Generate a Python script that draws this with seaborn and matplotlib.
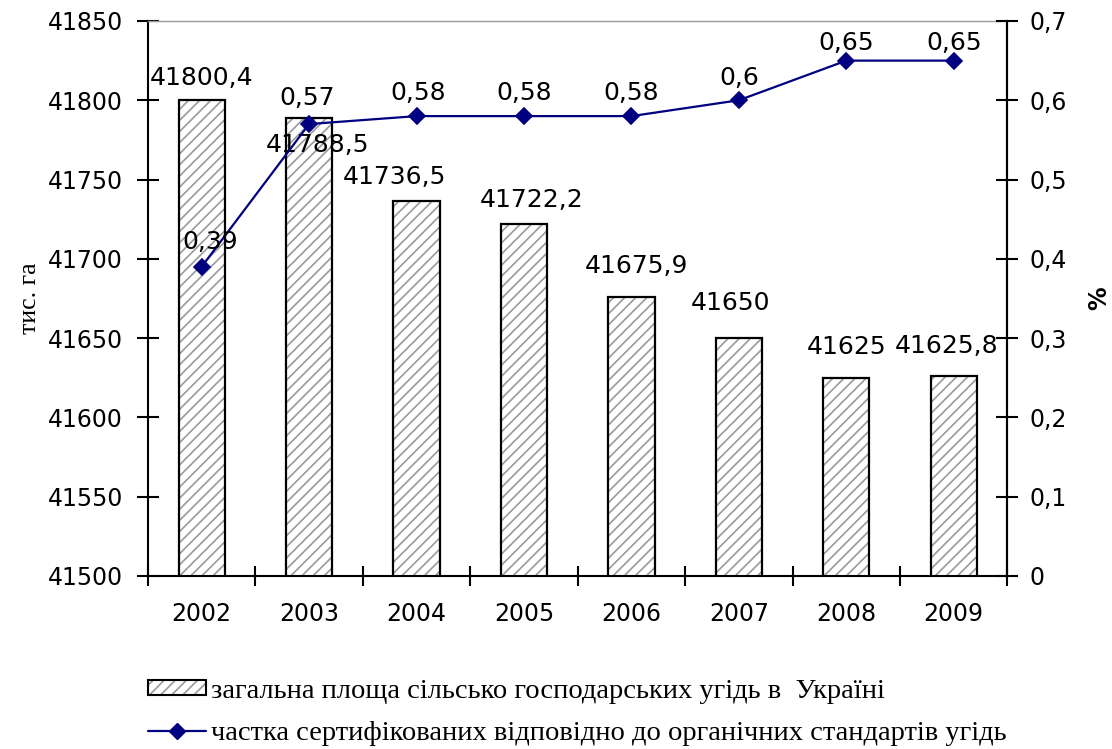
import matplotlib
matplotlib.use("Agg")
import matplotlib.pyplot as plt
import seaborn as sns
import pandas as pd
from matplotlib.lines import Line2D
from matplotlib.patches import Patch
from matplotlib.legend_handler import HandlerTuple
from matplotlib.ticker import FixedLocator, FuncFormatter, NullFormatter

# chart data
years = ["2002", "2003", "2004", "2005", "2006", "2007", "2008", "2009"]
area = [41800.4, 41788.5, 41736.5, 41722.2, 41675.9, 41650, 41625, 41625.8]
area_labels = ["41800,4", "41788,5", "41736,5", "41722,2", "41675,9", "41650", "41625", "41625,8"]
share = [0.39, 0.57, 0.58, 0.58, 0.58, 0.6, 0.65, 0.65]
share_labels = ["0,39", "0,57", "0,58", "0,58", "0,58", "0,6", "0,65", "0,65"]
legend_labels = [
    "загальна площа сільсько господарських угідь в  Україні",
    "частка сертифікованих відповідно до органічних стандартів угідь",
]

# label offsets (pixels) so the text sits like in the original
area_off = [(0, 22), (8, -27), (-22, 24), (8, 24), (5, 31), (-8, 35), (0, 31), (-7, 30)]
share_off = [(9, 25), (-2, 26), (2, 23), (0, 23), (0, 23), (0, 22), (0, 18), (0, 18)]

df = pd.DataFrame({"year": years, "area": area, "share": share})

sns.set_style("white")
plt.rcParams["font.family"] = ["DejaVu Sans"]
plt.rcParams["text.color"] = "black"
plt.rcParams["xtick.color"] = "black"
plt.rcParams["ytick.color"] = "black"
plt.rcParams["axes.labelcolor"] = "black"
plt.rcParams["hatch.linewidth"] = 1.2
serif = ["Liberation Serif", "DejaVu Serif"]
hatch_gray = "#9a9a9a"

fig = plt.figure(figsize=(11.12, 7.49), dpi=100)
ax = fig.add_axes([0.133, 0.231, 0.773, 0.741])

# hatched fill, then black outline on top
sns.barplot(data=df, x="year", y="area", color="white", edgecolor=hatch_gray,
            hatch="///", linewidth=0, width=0.43, ax=ax)
sns.barplot(data=df, x="year", y="area", fill=False, edgecolor="black",
            linewidth=1.6, width=0.43, ax=ax)

ax.set_ylim(41500, 41850)
ax.set_xlim(-0.5, 7.5)
ax.set_yticks(range(41500, 41851, 50))
ax.xaxis.set_major_locator(FixedLocator([i - 0.5 for i in range(9)]))
ax.xaxis.set_major_formatter(NullFormatter())
ax.xaxis.set_minor_locator(FixedLocator(list(range(8))))
ax.xaxis.set_minor_formatter(FuncFormatter(lambda v, p: years[int(round(v))]))
ax.tick_params(axis="x", which="major", direction="inout", length=15, width=1.5, bottom=True)
ax.tick_params(axis="x", which="minor", length=0, pad=19, labelsize=17)
ax.tick_params(axis="y", direction="inout", length=16, width=1.5, left=True, labelsize=17, pad=10)
ax.set_xlabel("")
ax.set_ylabel("тис. га", family=serif, fontsize=18.5, labelpad=5)
for side in ["left", "bottom", "right"]:
    ax.spines[side].set_linewidth(1.5)
    ax.spines[side].set_color("black")
ax.spines["top"].set_color("#9a9a9a")
ax.spines["top"].set_linewidth(1.0)

for i, (v, lab) in enumerate(zip(area, area_labels)):
    ax.annotate(lab, (i, v), xytext=area_off[i], textcoords="offset pixels",
                ha="center", va="center", fontsize=18)

ax2 = ax.twinx()
sns.pointplot(data=df, x="year", y="share", color="#000080", markers="D",
              markersize=8, linewidth=1.6, ax=ax2)
ax2.set_ylim(0, 0.7)
ax2.set_xlim(-0.5, 7.5)
ax2.set_yticks([0, 0.1, 0.2, 0.3, 0.4, 0.5, 0.6, 0.7])
ax2.yaxis.set_major_formatter(FuncFormatter(lambda v, p: ("%g" % round(v, 2)).replace(".", ",")))
ax2.tick_params(axis="y", direction="inout", length=16, width=1.5, right=True, labelsize=17, pad=8)
ax2.set_xlabel("")
ax2.set_ylabel("%", fontsize=17, fontweight="bold", labelpad=14)
ax2.spines["top"].set_visible(False)
ax2.spines["right"].set_linewidth(1.5)
ax2.spines["right"].set_color("black")
ax2.spines["left"].set_visible(False)
ax2.spines["bottom"].set_visible(False)

for i, (v, lab) in enumerate(zip(share, share_labels)):
    ax2.annotate(lab, (i, v), xytext=share_off[i], textcoords="offset pixels",
                 ha="center", va="center", fontsize=18)

bar_handle = (
    Patch(facecolor="white", edgecolor=hatch_gray, hatch="///", linewidth=0),
    Patch(facecolor="none", edgecolor="black", linewidth=1.5),
)
line_handle = Line2D([], [], color="#000080", marker="D", markersize=8, linewidth=1.6)
fig.legend([bar_handle, line_handle], legend_labels, loc="upper left",
           bbox_to_anchor=(0.110, 0.128), frameon=False,
           prop={"family": serif, "size": 20.5},
           handler_map={tuple: HandlerTuple(ndivide=1)},
           handlelength=2.03, handleheight=0.42, handletextpad=0.18, labelspacing=0.6)

fig.savefig("out.png", dpi=100)
